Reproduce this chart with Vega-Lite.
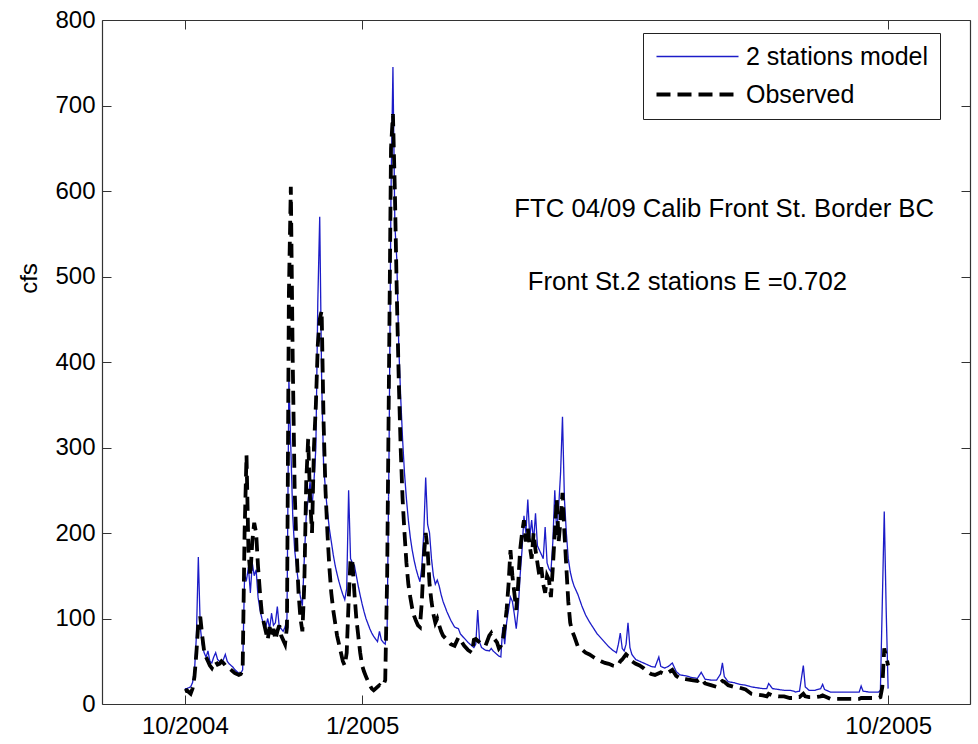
{
  "$schema": "https://vega.github.io/schema/vega-lite/v6.json",
  "width": 868,
  "height": 684,
  "autosize": {"type": "none"},
  "padding": {"left": 102, "top": 20, "right": 8, "bottom": 40},
  "background": "white",
  "config": {"view": {"stroke": null}, "font": "Liberation Sans"},
  "datasets": {
    "flow": [
      {"d":"2004-10-01","m":18,"o":15},{"d":"2004-10-02","m":18,"o":16},{"d":"2004-10-03","m":19,"o":14},{"d":"2004-10-04","m":20,"o":12},
      {"d":"2004-10-05","m":25,"o":18},{"d":"2004-10-06","m":38,"o":32},{"d":"2004-10-07","m":80,"o":60},{"d":"2004-10-08","m":172,"o":95},
      {"d":"2004-10-09","m":90,"o":102},{"d":"2004-10-10","m":70,"o":80},{"d":"2004-10-11","m":60,"o":62},{"d":"2004-10-12","m":55,"o":55},
      {"d":"2004-10-13","m":62,"o":50},{"d":"2004-10-14","m":50,"o":45},{"d":"2004-10-15","m":48,"o":42},{"d":"2004-10-16","m":55,"o":47},
      {"d":"2004-10-17","m":60,"o":50},{"d":"2004-10-18","m":52,"o":46},{"d":"2004-10-19","m":50,"o":47},{"d":"2004-10-20","m":48,"o":50},
      {"d":"2004-10-21","m":52,"o":48},{"d":"2004-10-22","m":58,"o":45},{"d":"2004-10-23","m":50,"o":44},{"d":"2004-10-24","m":47,"o":42},
      {"d":"2004-10-25","m":45,"o":40},{"d":"2004-10-26","m":43,"o":38},{"d":"2004-10-27","m":40,"o":36},{"d":"2004-10-28","m":38,"o":35},
      {"d":"2004-10-29","m":36,"o":34},{"d":"2004-10-30","m":36,"o":35},{"d":"2004-10-31","m":40,"o":40},{"d":"2004-11-01","m":150,"o":200},
      {"d":"2004-11-02","m":145,"o":291},{"d":"2004-11-03","m":160,"o":180},{"d":"2004-11-04","m":130,"o":150},{"d":"2004-11-05","m":165,"o":190},
      {"d":"2004-11-06","m":150,"o":212},{"d":"2004-11-07","m":157,"o":200},{"d":"2004-11-08","m":125,"o":160},{"d":"2004-11-09","m":110,"o":130},
      {"d":"2004-11-10","m":100,"o":105},{"d":"2004-11-11","m":92,"o":95},{"d":"2004-11-12","m":90,"o":85},{"d":"2004-11-13","m":100,"o":75},
      {"d":"2004-11-14","m":88,"o":90},{"d":"2004-11-15","m":106,"o":80},{"d":"2004-11-16","m":92,"o":88},{"d":"2004-11-17","m":95,"o":75},
      {"d":"2004-11-18","m":114,"o":85},{"d":"2004-11-19","m":90,"o":92},{"d":"2004-11-20","m":88,"o":80},{"d":"2004-11-21","m":85,"o":75},
      {"d":"2004-11-22","m":90,"o":70},{"d":"2004-11-23","m":100,"o":90},{"d":"2004-11-24","m":380,"o":480},{"d":"2004-11-25","m":300,"o":605},
      {"d":"2004-11-26","m":220,"o":400},{"d":"2004-11-27","m":180,"o":250},{"d":"2004-11-28","m":160,"o":180},{"d":"2004-11-29","m":140,"o":130},
      {"d":"2004-11-30","m":125,"o":100},{"d":"2004-12-01","m":115,"o":85},{"d":"2004-12-02","m":170,"o":140},{"d":"2004-12-03","m":220,"o":260},
      {"d":"2004-12-04","m":240,"o":310},{"d":"2004-12-05","m":260,"o":240},{"d":"2004-12-06","m":230,"o":200},{"d":"2004-12-07","m":260,"o":300},
      {"d":"2004-12-08","m":300,"o":350},{"d":"2004-12-09","m":470,"o":420},{"d":"2004-12-10","m":570,"o":450},{"d":"2004-12-11","m":380,"o":460},
      {"d":"2004-12-12","m":280,"o":330},{"d":"2004-12-13","m":250,"o":250},{"d":"2004-12-14","m":225,"o":200},{"d":"2004-12-15","m":205,"o":160},
      {"d":"2004-12-16","m":190,"o":130},{"d":"2004-12-17","m":175,"o":110},{"d":"2004-12-18","m":162,"o":95},{"d":"2004-12-19","m":152,"o":80},
      {"d":"2004-12-20","m":143,"o":70},{"d":"2004-12-21","m":135,"o":60},{"d":"2004-12-22","m":128,"o":50},{"d":"2004-12-23","m":122,"o":45},
      {"d":"2004-12-24","m":135,"o":60},{"d":"2004-12-25","m":250,"o":120},{"d":"2004-12-26","m":170,"o":170},{"d":"2004-12-27","m":165,"o":165},
      {"d":"2004-12-28","m":162,"o":130},{"d":"2004-12-29","m":150,"o":100},{"d":"2004-12-30","m":138,"o":80},{"d":"2004-12-31","m":127,"o":60},
      {"d":"2005-01-01","m":117,"o":45},{"d":"2005-01-02","m":108,"o":38},{"d":"2005-01-03","m":100,"o":32},{"d":"2005-01-04","m":94,"o":27},
      {"d":"2005-01-05","m":88,"o":22},{"d":"2005-01-06","m":83,"o":18},{"d":"2005-01-07","m":79,"o":16},{"d":"2005-01-08","m":76,"o":18},
      {"d":"2005-01-09","m":73,"o":20},{"d":"2005-01-10","m":85,"o":22},{"d":"2005-01-11","m":75,"o":20},{"d":"2005-01-12","m":72,"o":22},
      {"d":"2005-01-13","m":70,"o":28},{"d":"2005-01-14","m":90,"o":150},{"d":"2005-01-15","m":300,"o":400},{"d":"2005-01-16","m":600,"o":650},
      {"d":"2005-01-17","m":745,"o":690},{"d":"2005-01-18","m":560,"o":600},{"d":"2005-01-19","m":520,"o":480},{"d":"2005-01-20","m":420,"o":380},
      {"d":"2005-01-21","m":360,"o":300},{"d":"2005-01-22","m":310,"o":240},{"d":"2005-01-23","m":270,"o":200},{"d":"2005-01-24","m":240,"o":165},
      {"d":"2005-01-25","m":215,"o":140},{"d":"2005-01-26","m":195,"o":125},{"d":"2005-01-27","m":180,"o":112},{"d":"2005-01-28","m":168,"o":103},
      {"d":"2005-01-29","m":158,"o":97},{"d":"2005-01-30","m":150,"o":92},{"d":"2005-01-31","m":143,"o":90},{"d":"2005-02-01","m":160,"o":120},
      {"d":"2005-02-02","m":200,"o":170},{"d":"2005-02-03","m":265,"o":200},{"d":"2005-02-04","m":210,"o":180},{"d":"2005-02-05","m":200,"o":140},
      {"d":"2005-02-06","m":170,"o":120},{"d":"2005-02-07","m":150,"o":105},{"d":"2005-02-08","m":140,"o":95},{"d":"2005-02-09","m":145,"o":100},
      {"d":"2005-02-10","m":138,"o":92},{"d":"2005-02-11","m":128,"o":85},{"d":"2005-02-12","m":120,"o":80},{"d":"2005-02-14","m":108,"o":75},
      {"d":"2005-02-16","m":98,"o":70},{"d":"2005-02-18","m":90,"o":68},{"d":"2005-02-20","m":88,"o":78},{"d":"2005-02-21","m":82,"o":75},
      {"d":"2005-02-23","m":77,"o":68},{"d":"2005-02-25","m":72,"o":63},{"d":"2005-02-27","m":68,"o":60},{"d":"2005-02-28","m":66,"o":75},
      {"d":"2005-03-01","m":70,"o":76},{"d":"2005-03-02","m":110,"o":74},{"d":"2005-03-03","m":72,"o":72},{"d":"2005-03-04","m":66,"o":70},
      {"d":"2005-03-06","m":63,"o":68},{"d":"2005-03-08","m":62,"o":80},{"d":"2005-03-09","m":65,"o":83},{"d":"2005-03-10","m":62,"o":78},
      {"d":"2005-03-12","m":58,"o":72},{"d":"2005-03-13","m":56,"o":65},{"d":"2005-03-14","m":55,"o":68},{"d":"2005-03-15","m":90,"o":75},
      {"d":"2005-03-16","m":70,"o":90},{"d":"2005-03-17","m":95,"o":110},{"d":"2005-03-18","m":110,"o":140},{"d":"2005-03-19","m":125,"o":180},
      {"d":"2005-03-20","m":120,"o":150},{"d":"2005-03-21","m":105,"o":130},{"d":"2005-03-22","m":88,"o":110},{"d":"2005-03-23","m":110,"o":140},
      {"d":"2005-03-24","m":150,"o":180},{"d":"2005-03-25","m":180,"o":200},{"d":"2005-03-26","m":220,"o":215},{"d":"2005-03-27","m":200,"o":190},
      {"d":"2005-03-28","m":239,"o":205},{"d":"2005-03-29","m":195,"o":185},{"d":"2005-03-30","m":215,"o":170},{"d":"2005-03-31","m":190,"o":200},
      {"d":"2005-04-01","m":223,"o":180},{"d":"2005-04-02","m":185,"o":165},{"d":"2005-04-03","m":180,"o":150},{"d":"2005-04-04","m":175,"o":160},
      {"d":"2005-04-05","m":170,"o":140},{"d":"2005-04-06","m":207,"o":130},{"d":"2005-04-07","m":165,"o":150},{"d":"2005-04-08","m":158,"o":145},
      {"d":"2005-04-09","m":155,"o":125},{"d":"2005-04-10","m":190,"o":160},{"d":"2005-04-11","m":250,"o":200},{"d":"2005-04-12","m":200,"o":240},
      {"d":"2005-04-13","m":230,"o":190},{"d":"2005-04-14","m":270,"o":215},{"d":"2005-04-15","m":336,"o":247},{"d":"2005-04-16","m":240,"o":200},
      {"d":"2005-04-17","m":200,"o":160},{"d":"2005-04-18","m":170,"o":120},{"d":"2005-04-19","m":155,"o":95},{"d":"2005-04-20","m":145,"o":85},
      {"d":"2005-04-21","m":138,"o":80},{"d":"2005-04-23","m":128,"o":67},{"d":"2005-04-25","m":115,"o":64},{"d":"2005-04-27","m":104,"o":60},
      {"d":"2005-04-29","m":96,"o":58},{"d":"2005-05-01","m":89,"o":55},{"d":"2005-05-03","m":82,"o":52},{"d":"2005-05-05","m":77,"o":50},
      {"d":"2005-05-07","m":72,"o":48},{"d":"2005-05-09","m":67,"o":47},{"d":"2005-05-11","m":63,"o":45},{"d":"2005-05-13","m":60,"o":44},
      {"d":"2005-05-14","m":70,"o":46},{"d":"2005-05-15","m":83,"o":50},{"d":"2005-05-16","m":65,"o":52},{"d":"2005-05-17","m":62,"o":55},
      {"d":"2005-05-18","m":70,"o":58},{"d":"2005-05-19","m":95,"o":56},{"d":"2005-05-20","m":66,"o":55},{"d":"2005-05-21","m":58,"o":50},
      {"d":"2005-05-23","m":52,"o":47},{"d":"2005-05-25","m":50,"o":45},{"d":"2005-05-27","m":48,"o":42},{"d":"2005-05-29","m":46,"o":38},
      {"d":"2005-05-31","m":44,"o":35},{"d":"2005-06-02","m":43,"o":34},{"d":"2005-06-04","m":55,"o":36},{"d":"2005-06-05","m":44,"o":37},
      {"d":"2005-06-07","m":42,"o":35},{"d":"2005-06-09","m":44,"o":37},{"d":"2005-06-11","m":48,"o":40},{"d":"2005-06-13","m":38,"o":33},
      {"d":"2005-06-15","m":34,"o":30},{"d":"2005-06-18","m":33,"o":29},{"d":"2005-06-21","m":31,"o":28},{"d":"2005-06-24","m":30,"o":27},
      {"d":"2005-06-26","m":37,"o":30},{"d":"2005-06-28","m":29,"o":24},{"d":"2005-07-01","m":28,"o":22},{"d":"2005-07-04","m":28,"o":20},
      {"d":"2005-07-06","m":35,"o":25},{"d":"2005-07-07","m":48,"o":27},{"d":"2005-07-08","m":32,"o":26},{"d":"2005-07-10","m":26,"o":22},
      {"d":"2005-07-13","m":25,"o":20},{"d":"2005-07-16","m":23,"o":19},{"d":"2005-07-19","m":22,"o":17},{"d":"2005-07-22","m":20,"o":12},
      {"d":"2005-07-25","m":19,"o":11},{"d":"2005-07-28","m":18,"o":10},{"d":"2005-07-30","m":18,"o":9},{"d":"2005-07-31","m":24,"o":12},
      {"d":"2005-08-02","m":18,"o":10},{"d":"2005-08-05","m":17,"o":9},{"d":"2005-08-08","m":16,"o":9},{"d":"2005-08-11","m":16,"o":7},
      {"d":"2005-08-13","m":15,"o":7},{"d":"2005-08-14","m":14,"o":8},{"d":"2005-08-16","m":15,"o":8},{"d":"2005-08-17","m":30,"o":10},
      {"d":"2005-08-18","m":45,"o":12},{"d":"2005-08-19","m":20,"o":9},{"d":"2005-08-21","m":16,"o":8},{"d":"2005-08-24","m":16,"o":8},
      {"d":"2005-08-27","m":18,"o":9},{"d":"2005-08-28","m":23,"o":10},{"d":"2005-08-29","m":17,"o":9},{"d":"2005-09-01","m":14,"o":6},
      {"d":"2005-09-04","m":14,"o":6},{"d":"2005-09-08","m":14,"o":6},{"d":"2005-09-12","m":14,"o":6},{"d":"2005-09-16","m":14,"o":6},
      {"d":"2005-09-17","m":21,"o":7},{"d":"2005-09-18","m":15,"o":7},{"d":"2005-09-21","m":14,"o":7},{"d":"2005-09-24","m":14,"o":7},
      {"d":"2005-09-26","m":14,"o":7},{"d":"2005-09-27","m":16,"o":8},{"d":"2005-09-28","m":120,"o":20},{"d":"2005-09-29","m":225,"o":65},
      {"d":"2005-09-30","m":110,"o":55},{"d":"2005-10-01","m":18,"o":45}
    ],
    "notes": [
      {"d":"2005-03-21","v":570,"t":"FTC 04/09 Calib Front St. Border BC"},
      {"d":"2005-03-28","v":484,"t":"Front St.2 stations E =0.702"}
    ]
  },
  "layer": [
    {
      "data": {"name": "flow"},
      "transform": [{"fold": ["m", "o"], "as": ["series", "value"]}],
      "mark": {"type": "line", "interpolate": "linear"},
      "encoding": {
        "x": {
          "field": "d", "type": "temporal",
          "scale": {"type": "utc", "domain": [{"year": 2004, "month": 8, "date": 19, "utc": true}, {"year": 2005, "month": 11, "date": 12, "hours": 12, "utc": true}]},
          "axis": {
            "orient": "bottom", "title": null, "grid": false,
            "values": [{"year": 2004, "month": 10, "date": 1, "utc": true}, {"year": 2005, "month": 1, "date": 1, "utc": true}, {"year": 2005, "month": 10, "date": 1, "utc": true}],
            "format": "%-m/%Y", "labelFont": "Liberation Sans", "labelFontSize": 24, "labelColor": "#000",
            "labelPadding": 19, "labelFlush": false, "labelOverlap": false,
            "tickSize": -9, "tickColor": "#333", "tickWidth": 1, "domainColor": "#333", "domainWidth": 1.2
          }
        },
        "y": {
          "field": "value", "type": "quantitative",
          "scale": {"domain": [0, 800], "nice": false},
          "axis": {
            "orient": "left", "title": "cfs", "grid": false,
            "values": [0, 100, 200, 300, 400, 500, 600, 700, 800],
            "labelFont": "Liberation Sans", "labelFontSize": 24, "labelColor": "#000",
            "labelPadding": 16, "labelFlush": false, "labelOverlap": false,
            "tickSize": -9, "tickColor": "#333", "tickWidth": 1, "domainColor": "#333", "domainWidth": 1.2,
            "titleFont": "Liberation Sans", "titleFontSize": 24, "titleFontWeight": "normal", "titleColor": "#000",
            "titleX": -66, "titleY": 258, "titleAngle": -90, "titleAlign": "center", "titleBaseline": "alphabetic"
          }
        },
        "color": {
          "field": "series", "type": "nominal",
          "scale": {"domain": ["m", "o"], "range": ["#1c1cc8", "#000000"]},
          "legend": {
            "orient": "none", "legendX": 541, "legendY": 13, "title": null,
            "labelExpr": "datum.label == 'm' ? '2 stations model' : 'Observed'",
            "symbolType": "M-5,0H5", "symbolSize": 269, "symbolOffset": 31, "labelOffset": 36, "labelLimit": 400,
            "labelFont": "Liberation Sans", "labelFontSize": 25, "labelColor": "#000",
            "strokeColor": "#222", "fillColor": "#fff", "padding": 11, "rowPadding": 12, "cornerRadius": 0
          }
        },
        "strokeDash": {"field": "series", "type": "nominal", "scale": {"domain": ["m", "o"], "range": [[1, 0], [14, 7]]}},
        "strokeWidth": {"field": "series", "type": "nominal", "scale": {"domain": ["m", "o"], "range": [1.3, 3.8]}}
      }
    },
    {
      "data": {"name": "notes"},
      "mark": {"type": "text", "align": "left", "baseline": "alphabetic", "font": "Liberation Sans", "fontSize": 25.7, "color": "#000"},
      "encoding": {
        "x": {"field": "d", "type": "temporal",
          "axis": {"orient": "top", "title": null, "grid": false, "labels": false,
            "values": [{"year": 2004, "month": 10, "date": 1, "utc": true}, {"year": 2005, "month": 1, "date": 1, "utc": true}, {"year": 2005, "month": 10, "date": 1, "utc": true}],
            "tickSize": -9, "tickColor": "#333", "domainColor": "#333", "domainWidth": 1.2}},
        "y": {"field": "v", "type": "quantitative",
          "axis": {"orient": "right", "title": null, "grid": false, "labels": false,
            "values": [0, 100, 200, 300, 400, 500, 600, 700, 800],
            "tickSize": -9, "tickColor": "#333", "domainColor": "#333", "domainWidth": 1.2}},
        "text": {"field": "t", "type": "nominal"}
      }
    }
  ],
  "resolve": {"axis": {"x": "independent", "y": "independent"}}
}
